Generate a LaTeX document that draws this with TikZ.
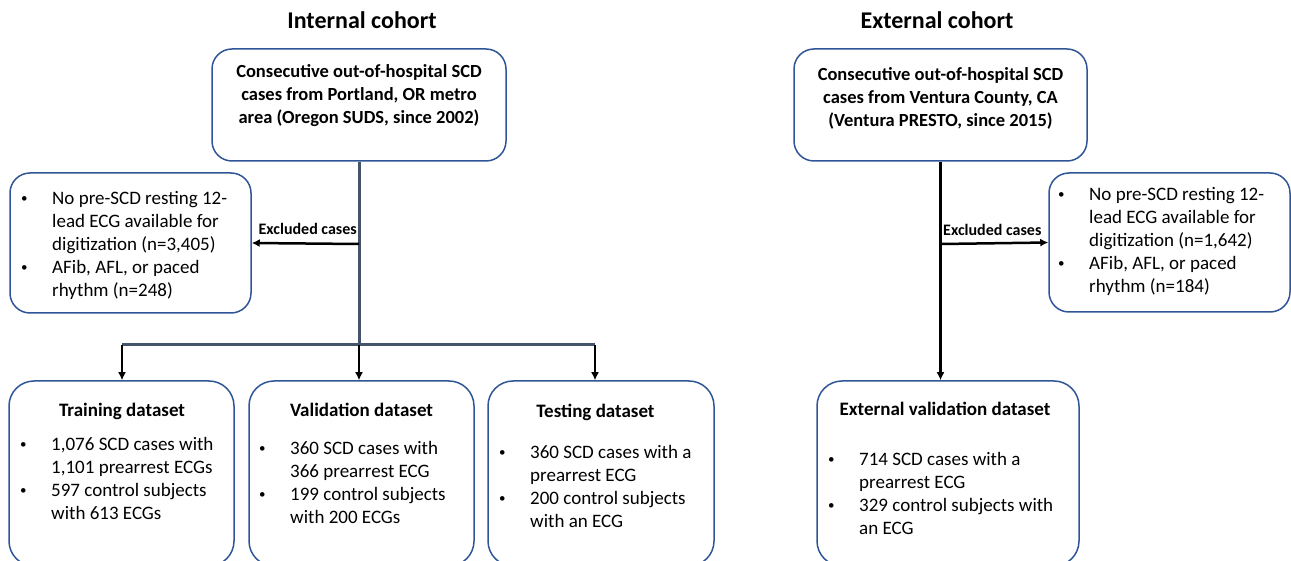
\documentclass[tikz,border=0pt]{standalone}
\usepackage{fontspec}
\setmainfont{Carlito}
\usetikzlibrary{arrows.meta}
\definecolor{boxblue}{HTML}{2F5597}
\definecolor{slate}{HTML}{44546A}
\newcommand\bulletw{32pt}
\newcommand\bl{\makebox[\bulletw][l]{\hspace*{1pt}\raisebox{1.5pt}{\fontsize{13}{13}\selectfont\textbullet}}}
\newcommand\bi{\hspace*{\bulletw}}
\tikzstyle{box} = [draw=boxblue, line width=1.5pt, rounded corners=20pt, inner sep=0pt]
\tikzstyle{body} = [font=\fontsize{19}{23}\selectfont, align=left, inner sep=0pt, anchor=north west]
\tikzstyle{head} = [font=\fontsize{19}{23}\selectfont\bfseries, inner sep=0pt]
\tikzstyle{src} = [font=\fontsize{18.5}{23.3}\selectfont\bfseries, align=center, inner sep=0pt, anchor=north]
\tikzstyle{cohort} = [font=\fontsize{24}{28}\selectfont\bfseries, inner sep=0pt]
\tikzstyle{exlabel} = [font=\fontsize{16}{19}\selectfont\bfseries, inner sep=0pt]
\tikzstyle{trunk} = [draw=slate, line width=3pt]
\tikzstyle{arrow} = [line width=2.5pt, -{Latex[length=8pt,width=8pt]}]

\begin{document}
\begin{tikzpicture}[x=1pt, y=-1pt]
	\useasboundingbox (0,0) rectangle (1291,561);

	% cohort titles
	\node[cohort] (inttitle) at (362,20) {Internal cohort};
	\node[cohort] (exttitle) at (937,20) {External cohort};

	% source boxes
	\node[box, minimum width=294pt, minimum height=112pt] (intsrc) at (359,105) {};
	\node[src] (intsrctext) at (359,64) {Consecutive out-of-hospital SCD\\cases from Portland, OR metro\\area (Oregon SUDS, since 2002)};
	\node[box, minimum width=293pt, minimum height=112pt] (extsrc) at (940.5,105) {};
	\node[src] (extsrctext) at (940.5,67) {Consecutive out-of-hospital SCD\\cases from Ventura County, CA\\(Ventura PRESTO, since 2015)};

	% excluded boxes
	\node[box, minimum width=241pt, minimum height=140pt] (intexcl) at (130.5,243) {};
	\node[body] (intexcltext) at (20,191) {\bl No pre-SCD resting 12-\\ \bi lead ECG available for\\ \bi digitization (n=3,405)\\ \bl AFib, AFL, or paced\\ \bi rhythm (n=248)};
	\node[box, minimum width=241pt, minimum height=139pt] (extexcl) at (1169.5,242.5) {};
	\node[body] (extexcltext) at (1057,187) {\bl No pre-SCD resting 12-\\ \bi lead ECG available for\\ \bi digitization (n=1,642)\\ \bl AFib, AFL, or paced\\ \bi rhythm (n=184)};

	% dataset boxes
	\node[box, rounded corners=25pt, minimum width=225pt, minimum height=185pt] (train) at (121.5,473.5) {};
	\node[head] (traintitle) at (122,411) {Training dataset};
	\node[body] (traintext) at (19,437) {\bl 1,076 SCD cases with\\ \bi 1,101 prearrest ECGs\\ \bl 597 control subjects\\ \bi with 613 ECGs};
	\node[box, rounded corners=25pt, minimum width=225pt, minimum height=185pt] (valid) at (361.5,473.5) {};
	\node[head] (validtitle) at (361.5,410) {Validation dataset};
	\node[body] (validtext) at (258,441) {\bl 360 SCD cases with\\ \bi 366 prearrest ECG\\ \bl 199 control subjects\\ \bi with 200 ECGs};
	\node[box, rounded corners=25pt, minimum width=226pt, minimum height=185pt] (test) at (601,473.5) {};
	\node[head] (testtitle) at (595.5,412) {Testing dataset};
	\node[body] (testtext) at (498,445) {\bl 360 SCD cases with a\\ \bi prearrest ECG\\ \bl 200 control subjects\\ \bi with an ECG};
	\node[box, rounded corners=25pt, minimum width=262pt, minimum height=185pt] (extval) at (948,473.5) {};
	\node[head] (extvaltitle) at (945,409) {External validation dataset};
	\node[body] (extvaltext) at (827,452) {\bl 714 SCD cases with a\\ \bi prearrest ECG\\ \bl 329 control subjects with\\ \bi an ECG};

	% internal connectors
	\coordinate (split) at (359,345);
	\coordinate (splitL) at (122,345);
	\coordinate (splitR) at (595,345);
	\coordinate (intexc) at (359,244);
	\draw[trunk] (intsrc.south) -- (split);
	\draw[trunk] (splitL) -- (splitR);
	\draw[arrow] (splitL) -- (splitL |- train.north);
	\draw[arrow] (split) -- (split |- valid.north);
	\draw[arrow] (splitR) -- (splitR |- test.north);
	\draw[arrow] (intexc) -- (intexcl.east);
	\node[exlabel, anchor=east] (intexclabel) at (357,229) {Excluded cases};

	% external connectors
	\coordinate (extexc) at (941,244);
	\draw[arrow] (extsrc.south) -- (extsrc.south |- extval.north);
	\draw[arrow] (extexc) -- (extexcl.west);
	\node[exlabel, anchor=west] (extexclabel) at (943,230) {Excluded cases};
\end{tikzpicture}
\end{document}
